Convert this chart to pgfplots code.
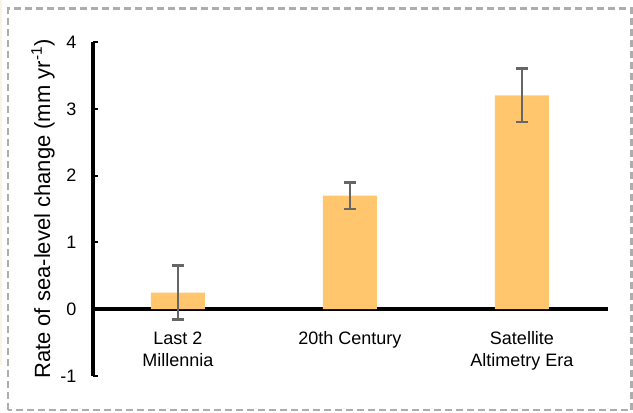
\documentclass[border=0pt]{standalone}
\usepackage{fontspec}
\setmainfont{Liberation Sans}
\usepackage{pgfplots}
\pgfplotsset{compat=1.18}

\definecolor{barfill}{HTML}{FFC66E}
\definecolor{errgray}{HTML}{666666}
\definecolor{framegray}{HTML}{ADADAD}
\definecolor{edgecream}{HTML}{FBF3E4}

\begin{document}
\begin{tikzpicture}
% canvas: 633 x 412 px at 0.75pt per px
\useasboundingbox (0,0) rectangle (474.75pt,309pt);
\fill[edgecream] (0,35pt) rectangle (1.5pt,309pt);
\draw[framegray, line width=1.6pt, dash pattern=on 5.25pt off 3pt]
  (6pt,1.5pt) rectangle (473.6pt,302.6pt);

\begin{axis}[
  at={(69.75pt,27pt)}, anchor=south west,
  scale only axis,
  width=386.25pt, height=250.5pt,
  xmin=-0.494, xmax=2.5,
  ymin=-1, ymax=4,
  axis x line=middle,
  axis y line=left,
  x axis line style={-, line width=2.8pt, black},
  y axis line style={-, line width=2.6pt, black},
  hide obscured x ticks=false,
  hide obscured y ticks=false,
  xtick={0,1,2},
  xticklabels={Last 2\\Millennia, 20th Century, Satellite\\Altimetry Era},
  xtick style={draw=none},
  ytick={-1,0,1,2,3,4},
  ytick style={line width=1.6pt, black},
  tick align=inside,
  major tick length=4pt,
  /pgf/number format/assume math mode=true,
  xticklabel style={align=center, font=\fontsize{13.5}{16.3}\selectfont, yshift=-13.5pt},
  yticklabel style={font=\fontsize{13.5}{16}\selectfont, xshift=-9pt},
  ylabel={Rate of sea-level change (mm yr\textsuperscript{-1})},
  every axis y label/.style={at={(axis description cs:0,0.5)}, rotate=90,
    anchor=center, yshift=37.5pt, font=\fontsize{16.5}{19}\selectfont},
  clip=false,
]
\addplot[ybar, bar width=40.5pt, fill=barfill, draw=none,
  error bars/.cd, y dir=both, y explicit,
  error bar style={line width=2pt, errgray},
  error mark options={rotate=90, mark size=4.5pt, line width=2pt, errgray}]
  coordinates {
    (0,0.25) +- (0,0.4)
    (1,1.70) +- (0,0.2)
    (2,3.20) +- (0,0.4)
  };
\end{axis}
\end{tikzpicture}
\end{document}
